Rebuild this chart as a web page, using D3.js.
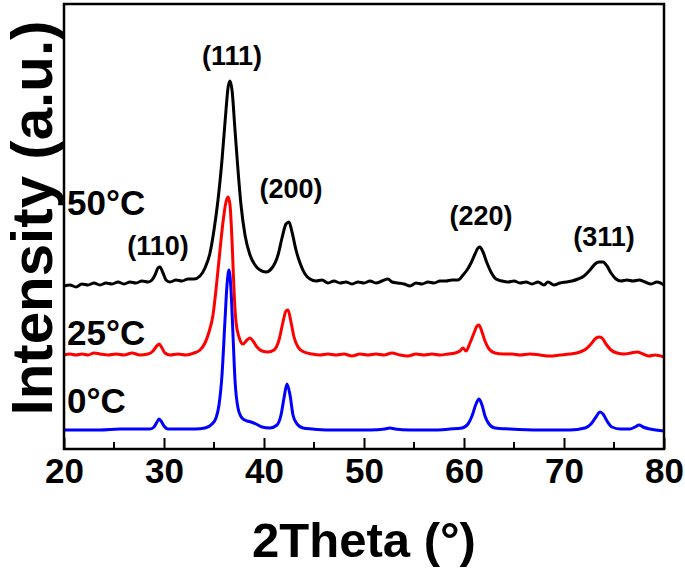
<!DOCTYPE html>
<html>
<head>
<meta charset="utf-8">
<script src="https://cdn.jsdelivr.net/npm/d3@7"></script>
<style>
  body { margin: 0; background: #fff; }
  svg { display: block; font-family: "Liberation Sans", Arial, sans-serif; font-weight: bold; }
</style>
</head>
<body>
<svg></svg>
<script>
// 2theta / intensity (a.u., stacked as plotted)
const theta50 = [20.0,20.6,21.2,21.8,22.4,23.0,23.6,24.2,24.8,25.4,26.0,26.6,27.2,27.8,28.4,28.8,29.1,29.4,29.6,29.9,30.2,30.6,31.2,31.8,32.4,33.0,33.6,34.1,34.6,35.0,35.4,35.8,36.2,36.4,36.6,36.8,37.1,37.4,37.7,38.1,38.6,39.1,39.6,40.2,40.8,41.4,41.8,42.2,42.5,42.8,43.2,43.6,44.1,44.6,45.2,45.8,46.4,47.0,47.6,48.2,48.8,49.4,50.0,50.6,51.2,51.8,52.4,52.8,53.4,54.0,54.6,55.2,55.8,56.4,57.0,57.6,58.2,58.8,59.4,59.9,60.3,60.7,61.1,61.4,61.6,61.9,62.3,62.7,63.2,63.8,64.4,65.0,65.6,66.2,66.8,67.4,68.0,68.4,69.0,69.6,70.2,70.8,71.4,72.0,72.6,73.1,73.5,73.9,74.3,74.7,75.2,75.7,76.3,76.9,77.5,78.1,78.7,79.3,80.0];
const int50 = [163,164,162,165,164,166,164,166,165,167,165,167,166,168,167,169,174,181,182,176,169,167,169,168,170,170,173,181,196,219,249,289,339,361,368,359,319,279,244,214,194,184,179,177,181,194,211,225,227,217,199,186,175,170,168,169,166,168,166,167,165,167,166,168,166,168,170,167,166,165,163,166,165,167,166,168,168,169,169,174,179,186,195,201,202,197,186,177,170,168,167,168,166,167,165,167,164,167,164,166,167,168,170,173,179,185,187,187,183,176,170,168,169,168,169,167,165,167,164];

const theta25 = [20.0,20.6,21.2,21.8,22.4,23.0,23.6,24.4,25.2,26.0,26.8,27.6,28.4,28.9,29.2,29.5,29.8,30.1,30.6,31.4,32.2,33.0,33.6,34.1,34.5,34.9,35.3,35.6,35.9,36.2,36.4,36.6,36.8,37.0,37.2,37.5,37.9,38.3,38.6,38.9,39.3,39.8,40.4,41.0,41.5,41.9,42.2,42.4,42.7,43.0,43.4,44.0,44.8,45.6,46.4,47.2,48.0,48.8,49.6,50.4,51.2,52.0,52.8,53.6,54.4,55.2,56.0,56.8,57.6,58.4,59.1,59.6,59.9,60.2,60.6,61.0,61.3,61.5,61.8,62.1,62.5,63.1,63.9,64.8,65.6,66.6,67.6,68.6,69.6,70.6,71.6,72.2,72.7,73.1,73.5,73.8,74.2,74.7,75.3,76.0,76.7,77.3,77.9,78.5,79.1,80.0];
const int25 = [94,95,94,95,94,96,95,94,95,94,96,94,95,98,102,105,101,96,94,95,94,96,99,106,117,134,169,199,227,247,252,244,209,159,127,112,105,109,111,108,102,98,97,99,109,127,138,139,127,112,102,97,95,94,95,94,95,93,95,94,95,94,96,94,93,95,94,95,94,95,96,98,101,98,106,116,123,124,117,108,100,96,95,95,94,95,94,93,94,95,97,100,105,110,112,111,105,99,96,95,96,97,95,93,94,92];

const theta0 = [20.0,21.6,23.6,25.6,27.6,28.6,29.0,29.3,29.5,29.7,30.0,30.4,31.6,33.1,34.1,34.8,35.2,35.5,35.8,36.1,36.3,36.5,36.7,36.9,37.1,37.4,37.8,38.3,38.7,39.2,39.8,40.6,41.3,41.7,42.0,42.3,42.6,42.9,43.3,43.9,44.8,46.6,48.6,50.6,52.1,52.6,53.1,54.6,56.6,58.6,59.8,60.4,60.8,61.2,61.5,61.8,62.1,62.5,63.1,64.6,67.6,70.6,72.1,72.7,73.2,73.6,73.9,74.3,74.8,75.6,76.6,77.1,77.5,77.9,78.6,80.0];
const int0 = [19,19,19,20,20,20,22,27,30,28,23,20,20,20,21,25,31,44,74,129,164,179,159,114,69,41,31,28,27,25,22,21,24,34,51,65,54,34,25,21,20,19,19,19,20,21,20,19,19,20,21,25,33,45,50,44,33,25,21,20,19,19,21,25,32,37,35,28,22,20,20,22,24,22,20,18];

const seriesNames = ['50°C', '25°C', '0°C'];
const seriesColors = ['#000000', '#ff0000', '#0000ff'];

const peakLabels = ['(110)', '(111)', '(200)', '(220)', '(311)'];
const peakTheta = [29.4, 36.8, 42.7, 61.7, 74.0];
const peakLabelInt = [194, 384, 251, 224, 203];

const labelInt = [234, 104, 36];

const xTicks = [20, 30, 40, 50, 60, 70, 80];
const xMinor = [25, 35, 45, 55, 65, 75];

const margin = { top: 4, right: 21, bottom: 122, left: 64 };
const W = 685, H = 571;
const w = W - margin.left - margin.right;
const h = H - margin.top - margin.bottom;

const svg = d3.select('svg').attr('width', W).attr('height', H);
const g = svg.append('g').attr('transform', `translate(${margin.left},${margin.top})`);

const x = d3.scaleLinear().domain([20, 80]).range([0, w]);
const y = d3.scaleLinear().domain([0, 445]).range([h, 0]);

const series = [
    { theta: theta50, val: int50 },
    { theta: theta25, val: int25 },
    { theta: theta0, val: int0 }
];

const line = d3.line()
    .x(d => x(d[0]))
    .y(d => y(d[1]))
    .curve(d3.curveMonotoneX);

// draw blue first, black last
series.slice().reverse().forEach((s, i) => {
    const k = series.length - 1 - i;
    g.append('path')
        .datum(s.theta.map((t, j) => [t, s.val[j]]))
        .attr('fill', 'none')
        .attr('stroke', seriesColors[k])
        .attr('stroke-width', 3)
        .attr('stroke-linejoin', 'round')
        .attr('d', line);
});

// bottom axis, ticks pointing inward
const xAxis = d3.axisBottom(x).tickValues(xTicks).tickSize(-11).tickPadding(9).tickFormat(d3.format('d'));
const ax = g.append('g').attr('transform', `translate(0,${h})`).call(xAxis);
ax.select('.domain').remove();
ax.selectAll('.tick line').attr('stroke', '#000').attr('stroke-width', 2);
ax.selectAll('.tick text')
    .attr('font-size', 35)
    .attr('font-family', '"Liberation Sans", Arial, sans-serif')
    .attr('font-weight', 'bold')
    .attr('fill', '#000')
    .attr('dy', '0.72em');

g.append('g')
    .selectAll('line')
    .data(xMinor)
    .enter()
    .append('line')
    .attr('x1', d => x(d)).attr('x2', d => x(d))
    .attr('y1', h).attr('y2', h - 7)
    .attr('stroke', '#000').attr('stroke-width', 2);

// frame
g.append('rect')
    .attr('width', w).attr('height', h)
    .attr('fill', 'none')
    .attr('stroke', '#000')
    .attr('stroke-width', 2.5);

// series labels
g.selectAll('.slabel')
    .data(seriesNames)
    .enter()
    .append('text')
    .attr('x', 3)
    .attr('y', (d, i) => y(labelInt[i]))
    .attr('font-size', 35)
    .attr('fill', '#000')
    .text(d => d);

// peak labels
g.selectAll('.plabel')
    .data(peakLabels)
    .enter()
    .append('text')
    .attr('x', (d, i) => x(peakTheta[i]))
    .attr('y', (d, i) => y(peakLabelInt[i]))
    .attr('text-anchor', 'middle')
    .attr('font-size', 27)
    .attr('fill', '#000')
    .text(d => d);

// axis titles
svg.append('text')
    .attr('x', margin.left + w / 2)
    .attr('y', 557)
    .attr('text-anchor', 'middle')
    .attr('font-size', 49)
    .text('2Theta (°)');

svg.append('text')
    .attr('transform', 'rotate(-90)')
    .attr('x', -218)
    .attr('y', 52)
    .attr('text-anchor', 'middle')
    .attr('font-size', 58)
    .attr('textLength', 395)
    .attr('lengthAdjust', 'spacingAndGlyphs')
    .text('Intensity (a.u.)');
</script>
</body>
</html>
